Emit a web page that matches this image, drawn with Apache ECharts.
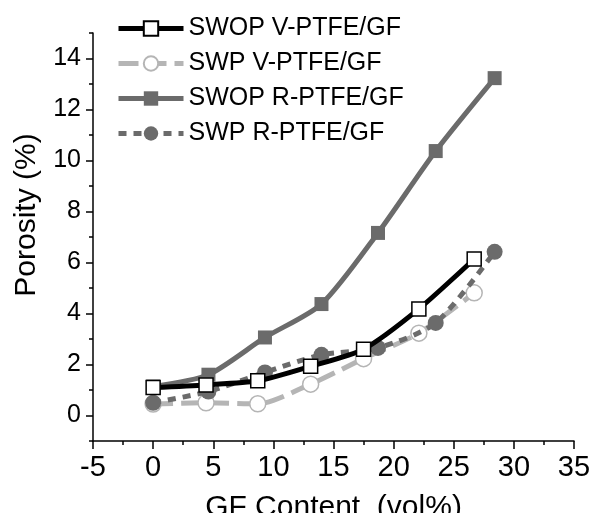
<!DOCTYPE html>
<html>
<head>
<meta charset="utf-8">
<script src="https://cdn.jsdelivr.net/npm/echarts@6/dist/echarts.min.js"></script>
<style>
  html, body { margin: 0; padding: 0; background: #fff; }
  #chart { width: 595px; height: 513px; }
</style>
</head>
<body>
<div id="chart"></div>
<script>
// GF content (vol%) for each composite family
const vContent = [0, 4.4, 8.7, 13.1, 17.5, 22.1, 26.7];
const rContent = [0, 4.6, 9.3, 14.0, 18.7, 23.5, 28.4];
// porosity (%)
const swopV = [1.1, 1.2, 1.36, 1.93, 2.6, 4.18, 6.14];
const swpV = [0.45, 0.5, 0.46, 1.23, 2.23, 3.23, 4.81];
const swopR = [1.14, 1.6, 3.06, 4.37, 7.16, 10.37, 13.23];
const swpR = [0.5, 0.94, 1.69, 2.38, 2.65, 3.63, 6.42];

// y ticks: labelled majors and the odd minors between them
const yMajor = [0, 2, 4, 6, 8, 10, 12, 14];
const yMinor = [-1, 1, 3, 5, 7, 9, 11, 13, 15];

const names = ['SWOP V-PTFE/GF', 'SWP V-PTFE/GF', 'SWOP R-PTFE/GF', 'SWP R-PTFE/GF'];

const font = 'Liberation Sans, Arial, sans-serif';
const colors = {
  black: '#000000',
  light: '#b5b5b5',
  dark: '#6b6b6b'
};

function pairs(xs, ys) {
  return xs.map((x, i) => [x, ys[i]]);
}

function makeSeries(name, xs, ys, color, dash, symbol, fill, z) {
  return {
    name,
    type: 'line',
    z,
    data: pairs(xs, ys),
    smooth: 0.25,
    symbol,
    symbolSize: symbol === 'rect' ? 14 : 16,
    lineStyle: { color, width: 5, type: dash },
    itemStyle: { color: fill, borderColor: color, borderWidth: fill === '#fff' ? 1.5 : 0 },
    emphasis: { disabled: true }
  };
}

const tickStyle = { color: '#000', width: 1.5 };

const option = {
  animation: false,
  backgroundColor: '#fff',
  textStyle: { fontFamily: font },
  grid: { left: 93, right: 21, top: 33, bottom: 72, outerBoundsMode: 'none', containLabel: false },
  legend: {
    orient: 'vertical',
    left: 111,
    top: 11,
    itemWidth: 65,
    itemHeight: 18,
    itemGap: 10,
    data: names,
    lineStyle: { width: 5 },
    textStyle: { fontFamily: font, fontSize: 25, lineHeight: 25, color: '#000' }
  },
  xAxis: {
    type: 'value',
    min: -5,
    max: 35,
    interval: 5,
    name: 'GF Content  (vol%)',
    nameLocation: 'middle',
    nameGap: 52,
    nameTextStyle: { fontFamily: font, fontSize: 30, color: '#000' },
    axisLine: { show: true, onZero: false, lineStyle: tickStyle },
    axisTick: { show: true, inside: false, length: 8, lineStyle: tickStyle },
    minorTick: { show: true, splitNumber: 2, length: 4, lineStyle: tickStyle },
    splitLine: { show: false },
    axisLabel: { fontFamily: font, fontSize: 29, color: '#000', margin: 12 }
  },
  yAxis: [
    {
      type: 'value',
      min: -1,
      max: 15,
      name: 'Porosity (%)',
      nameLocation: 'middle',
      nameGap: 51,
      nameTextStyle: { fontFamily: font, fontSize: 30, color: '#000', padding: [0, 0, 0, 44] },
      axisLine: { show: true, onZero: false, lineStyle: tickStyle },
      axisTick: { show: true, inside: false, length: 7, lineStyle: tickStyle, customValues: yMajor },
      splitLine: { show: false },
      axisLabel: { fontFamily: font, fontSize: 25, color: '#000', margin: 12, customValues: yMajor }
    },
    {
      type: 'value',
      position: 'left',
      min: -1,
      max: 15,
      axisLine: { show: false, onZero: false },
      axisTick: { show: true, inside: false, length: 4, lineStyle: tickStyle, customValues: yMinor },
      axisLabel: { show: false },
      splitLine: { show: false }
    }
  ],
  series: [
    makeSeries(names[0], vContent, swopV, colors.black, 'solid', 'rect', '#fff', 5),
    makeSeries(names[1], vContent, swpV, colors.light, [20, 8], 'circle', '#fff', 2),
    makeSeries(names[2], rContent, swopR, colors.dark, 'solid', 'rect', colors.dark, 3),
    makeSeries(names[3], rContent, swpR, colors.dark, [8, 7], 'circle', colors.dark, 4)
  ]
};

const chart = echarts.init(document.getElementById('chart'), null, { renderer: 'canvas' });
chart.setOption(option);
</script>
</body>
</html>
